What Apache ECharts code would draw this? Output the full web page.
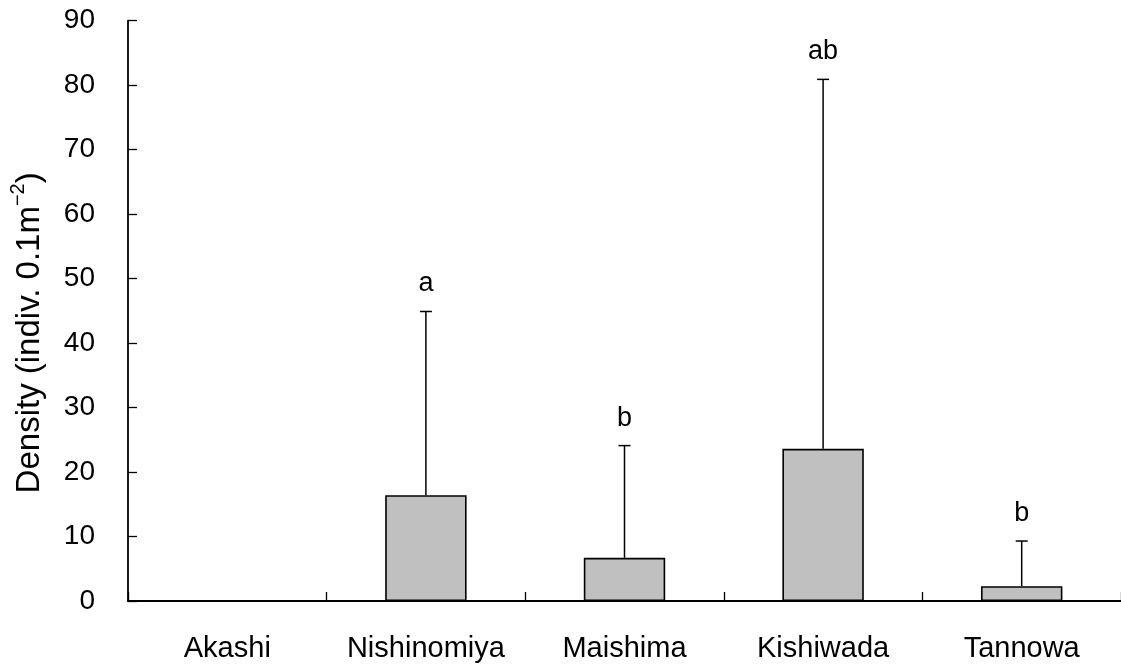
<!DOCTYPE html>
<html>
<head>
<meta charset="utf-8">
<script src="https://cdn.jsdelivr.net/npm/echarts@6/dist/echarts.min.js"></script>
<style>
  html, body { margin: 0; padding: 0; background: #fff; }
  #chart { width: 1121px; height: 668px; }
</style>
</head>
<body>
<div id="chart"></div>
<script>
// Mean density per site, upper end of the error bar, and significance letters
const sites = ['Akashi', 'Nishinomiya', 'Maishima', 'Kishiwada', 'Tannowa'];
const meanDensity = [0, 16.4, 6.7, 23.6, 2.3];
const upperDensity = [null, 44.9, 24.1, 80.9, 9.3];
const groupLetters = ['', 'a', 'b', 'ab', 'b'];
const yTicks = [0, 10, 20, 30, 40, 50, 60, 70, 80, 90];

const FONT = '"Liberation Sans", Arial, sans-serif';

const errorData = sites.map((s, i) => [i, meanDensity[i], upperDensity[i], groupLetters[i]]);

const chart = echarts.init(document.getElementById('chart'), null, { renderer: 'canvas' });

chart.setOption({
  backgroundColor: '#ffffff',
  animation: false,
  grid: { left: 120, top: 20.7, width: 1005, bottom: 67, containLabel: false },
  xAxis: {
    type: 'category',
    data: sites,
    boundaryGap: true,
    axisLine: { lineStyle: { color: '#000', width: 1.8 } },
    axisTick: { show: true, inside: true, interval: 0, length: 9, alignWithLabel: false,
                lineStyle: { color: '#000', width: 1.3 } },
    axisLabel: { color: '#000', fontFamily: FONT, fontSize: 29, margin: 33, interval: 0, hideOverlap: false }
  },
  yAxis: {
    type: 'value',
    min: yTicks[0],
    max: yTicks[yTicks.length - 1],
    interval: 10,
    name: '{n|Density (indiv. 0.1m}{s|−2}{n|)}',
    nameLocation: 'middle',
    nameGap: 76,
    nameRotate: 90,
    nameTextStyle: {
      color: '#000',
      fontFamily: FONT,
      padding: [0, 44, 0, 0],
      rich: {
        n: { fontFamily: FONT, fontSize: 33, color: '#000', lineHeight: 44 },
        s: { fontFamily: FONT, fontSize: 20, color: '#000', lineHeight: 20, verticalAlign: 'top' }
      }
    },
    axisLine: { show: true, lineStyle: { color: '#000', width: 1.8 } },
    axisTick: { show: true, inside: true, length: 9, lineStyle: { color: '#000', width: 1.3 } },
    axisLabel: { color: '#000', fontFamily: FONT, fontSize: 28, margin: 33 },
    splitLine: { show: false }
  },
  series: [
    {
      type: 'bar',
      data: meanDensity,
      barWidth: '41%',
      itemStyle: { color: '#c0c0c0', borderColor: '#000', borderWidth: 1.6 },
      z: 2
    },
    {
      type: 'custom',
      data: errorData,
      z: 3,
      renderItem: function (params, api) {
        const upper = api.value(2);
        if (upper === null || isNaN(upper)) return null;
        const x = api.value(0);
        const base = api.coord([x, api.value(1)]);
        const top = api.coord([x, upper]);
        const cap = 6;
        return {
          type: 'group',
          children: [
            { type: 'line', shape: { x1: base[0], y1: base[1], x2: top[0], y2: top[1] },
              style: { stroke: '#000', lineWidth: 1.5 } },
            { type: 'line', shape: { x1: top[0] - cap, y1: top[1], x2: top[0] + cap, y2: top[1] },
              style: { stroke: '#000', lineWidth: 1.5 } },
            { type: 'text', x: top[0], y: top[1] - 14,
              style: { text: groupLetters[params.dataIndex], fill: '#000', font: '27px ' + FONT,
                       align: 'center', verticalAlign: 'bottom' } }
          ]
        };
      }
    }
  ]
});
</script>
</body>
</html>
